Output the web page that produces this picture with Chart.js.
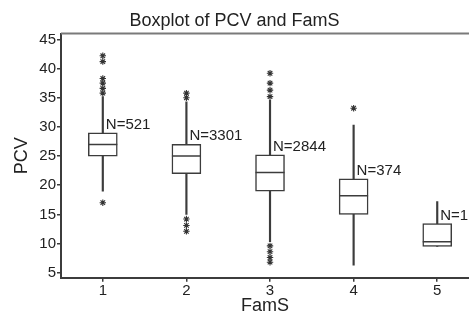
<!DOCTYPE html>
<html>
<head>
<meta charset="utf-8">
<script src="https://cdn.jsdelivr.net/npm/chart.js@4/dist/chart.umd.min.js"></script>
<style>
  html, body { margin: 0; padding: 0; background: #fff; }
</style>
</head>
<body>
<canvas id="canvas" width="469" height="315"></canvas>
<script>
// ---------- data ----------
let famS = [1, 2, 3, 4, 5]
let nLabels = ['N=521', 'N=3301', 'N=2844', 'N=374', 'N=1']
let whiskerLow = [19, 15, 10.3, 6.3, 9.5]
let q1 = [25, 22, 19, 15, 9.5]
let median = [27, 25, 22.2, 18.2, 10.3]
let q3 = [29, 27, 25.2, 21.1, 13.4]
let whiskerHigh = [35.2, 34.3, 34.6, 30.3, 17.2]
let outliers = [
  [17, 35.8, 36.6, 37.5, 38.3, 41.2, 42.2],
  [12.1, 13.1, 14.2, 35, 35.8],
  [6.8, 7.6, 8.6, 9.6, 35.2, 36.3, 37.5, 39.2],
  [33.2],
  []
]
let yTicks = [5, 10, 15, 20, 25, 30, 35, 40, 45]

let ink = '#3c3c3c'
let font = 'Liberation Sans, Arial, sans-serif'

// ---------- building the datasets ----------
let whiskerData = famS.map((x, i) => ({ x: x, y: [whiskerLow[i], whiskerHigh[i]] }))
let boxData = famS.map((x, i) => ({ x: x, y: [q1[i], q3[i]] }))
let medianData = famS.map((x, i) => ({ x: x, y: median[i] }))
let outlierData = []
outliers.forEach((list, i) => {
  list.forEach(v => outlierData.push({ x: famS[i], y: v }))
})

// frame line along the top of the plot
let topFrame = {
  id: 'topFrame',
  afterDraw(chart) {
    let a = chart.chartArea
    let ctx = chart.ctx
    ctx.save()
    ctx.strokeStyle = '#7a7a7a'
    ctx.lineWidth = 2
    ctx.beginPath()
    ctx.moveTo(a.left, a.top)
    ctx.lineTo(a.right, a.top)
    ctx.stroke()
    ctx.restore()
  }
}

// N= labels next to each upper whisker
let nText = {
  id: 'nText',
  afterDatasetsDraw(chart) {
    let xs = chart.scales.x
    let ys = chart.scales.y
    let ctx = chart.ctx
    ctx.save()
    ctx.fillStyle = '#222'
    ctx.font = '15px ' + font
    ctx.textAlign = 'left'
    ctx.textBaseline = 'alphabetic'
    famS.forEach((x, i) => {
      ctx.fillText(nLabels[i], xs.getPixelForValue(x) + 3, ys.getPixelForValue(q3[i]) - 4)
    })
    ctx.restore()
  }
}

let config = {
  type: 'bar',
  data: {
    datasets: [
      {
        label: 'whisker',
        data: whiskerData,
        backgroundColor: ink,
        borderWidth: 0,
        barThickness: 1.5,
        grouped: false,
        order: 3
      },
      {
        label: 'box',
        data: boxData,
        backgroundColor: '#fff',
        borderColor: ink,
        borderWidth: 1.5,
        borderSkipped: false,
        barThickness: 29,
        grouped: false,
        order: 2
      },
      {
        type: 'scatter',
        label: 'median',
        data: medianData,
        pointStyle: 'line',
        pointRadius: 14.5,
        pointHoverRadius: 14.5,
        borderColor: ink,
        borderWidth: 1.5,
        order: 1
      },
      {
        type: 'scatter',
        label: 'outliers',
        data: outlierData,
        pointStyle: 'star',
        pointRadius: 3.2,
        pointHoverRadius: 3.2,
        borderColor: '#333',
        borderWidth: 1.1,
        order: 0
      }
    ]
  },
  options: {
    responsive: false,
    animation: false,
    // no auto padding: the wide median markers would otherwise shrink the plot
    layout: { padding: 0, autoPadding: false },
    plugins: {
      legend: { display: false },
      tooltip: { enabled: false },
      title: {
        display: true,
        text: 'Boxplot of PCV and FamS',
        color: '#222',
        font: { family: font, size: 18, weight: 'normal', lineHeight: 1.2 },
        padding: { top: 10, bottom: 2 }
      }
    },
    scales: {
      x: {
        type: 'linear',
        min: 0.5,
        max: 5.38,
        offset: false,
        afterBuildTicks: s => { s.ticks = famS.map(v => ({ value: v })) },
        afterFit: s => { s.height = 37.3; s.paddingLeft = 0; s.paddingRight = 0 },
        ticks: { color: '#222', font: { family: font, size: 15 }, padding: 0, maxRotation: 0 },
        grid: { drawOnChartArea: false, drawTicks: true, tickLength: 4, color: ink, lineWidth: 1.5, offset: false },
        border: { display: true, color: ink, width: 2 },
        title: {
          display: true,
          text: 'FamS',
          color: '#222',
          font: { family: font, size: 18, lineHeight: 1.0 },
          padding: { top: 0, bottom: 0 }
        }
      },
      y: {
        type: 'linear',
        min: 4.14,
        max: 46,
        beginAtZero: false,
        afterBuildTicks: s => { s.ticks = yTicks.map(v => ({ value: v })) },
        afterFit: s => { s.width = 61; s.paddingTop = 0; s.paddingBottom = 0 },
        ticks: { color: '#222', font: { family: font, size: 15 }, padding: 1 },
        grid: { drawOnChartArea: false, drawTicks: true, tickLength: 4, color: ink, lineWidth: 1.5 },
        border: { display: true, color: ink, width: 2 },
        title: {
          display: true,
          text: 'PCV',
          color: '#222',
          font: { family: font, size: 18, lineHeight: 1.2 },
          padding: { top: 11, bottom: 0 }
        }
      }
    }
  },
  plugins: [topFrame, nText]
}

let ctx = document.getElementById('canvas').getContext('2d')
let myChart = new Chart(ctx, config)
</script>
</body>
</html>
